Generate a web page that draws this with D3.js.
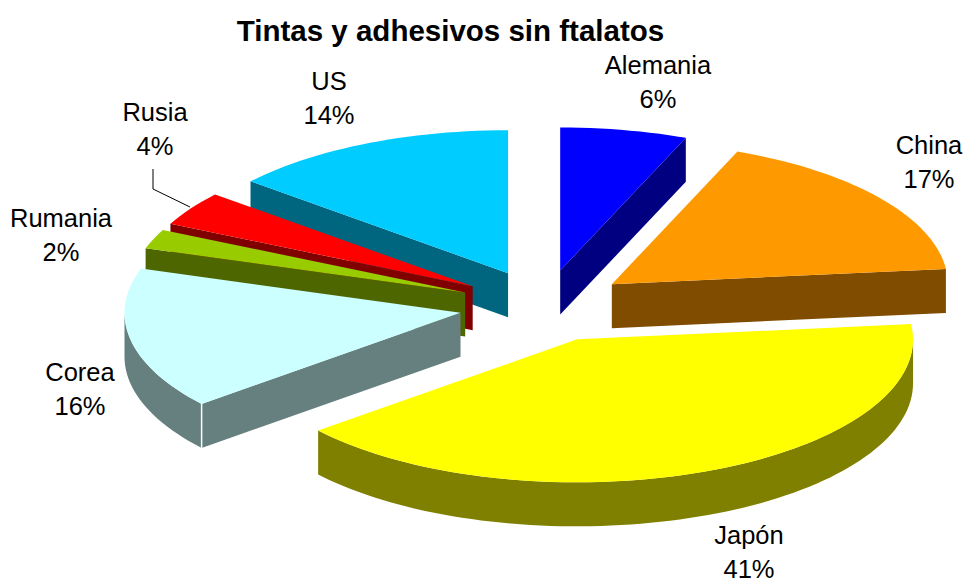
<!DOCTYPE html>
<html><head><meta charset="utf-8">
<script src="https://cdn.jsdelivr.net/npm/d3@7"></script>
<style>html,body{margin:0;padding:0;background:#fff}svg{display:block}</style>
</head><body><svg id="c" width="963" height="583"></svg>
<script>
const titleText = "Tintas y adhesivos sin ftalatos";
const categories = ["Alemania","China","Japón","Corea","Rumania","Rusia","US"];
const values = [6.1,17.2,40.7,16,2.2,3.9,13.9];
const topColors = ["#0000ff","#ff9900","#ffff00","#ccffff","#99cc00","#ff0000","#00ccff"];
const wallColors = ["#000080","#804c00","#808000","#667f7f","#4d6600","#800000","#006680"];
const drawOrder = ["Alemania","US","China","Rusia","Rumania","Corea","Japón"];
const labelX = [658,929,749,80,61,155,329];
const labelY = [74,154,543.5,381,227,121,90];

const W=963,H=583,cx=544,cy=306,rx=336,ry=143,depth=44,explode=0.253,lineGap=34;
const svg=d3.select("#c");
const sx=d3.scaleLinear().domain([-1,1]).range([-rx,rx]);
const sy=d3.scaleLinear().domain([-1,1]).range([ry,-ry]);
const arcs=d3.pie().value(d=>d).sort(null)(values);
const line=d3.line();
const pt=(a,c)=>[c[0]+sx(Math.sin(a)),c[1]+sy(Math.cos(a))];
const down=p=>[p[0],p[1]+depth];
const byName=new Map(categories.map((n,i)=>[n,i]));
const g=svg.append("g");
const endWall=new Set(["Alemania","China"]);
const startWall=new Set(["US","Rusia","Rumania","Corea"]);
drawOrder.forEach(name=>{
  const i=byName.get(name),d=arcs[i],mid=(d.startAngle+d.endAngle)/2;
  const c=[cx+explode*sx(Math.sin(mid)),cy+explode*sy(Math.cos(mid))];
  const s=g.append("g").attr("class","slice");
  const rad=a=>{const p=pt(a,c);return [c,p,down(p),down(c)];};
  const pi=Math.PI;
  if(endWall.has(name)) s.append("path").attr("d",line(rad(d.endAngle))+"Z").attr("fill",wallColors[i]);
  if(startWall.has(name)) s.append("path").attr("d",line(rad(d.startAngle))+"Z").attr("fill",wallColors[i]);
  const a0=Math.max(d.startAngle,pi/2),a1=Math.min(d.endAngle,pi*1.5);
  if(a1>a0){
    const as=d3.range(a0,a1,0.03).concat([a1]);
    const top=as.map(a=>pt(a,c));
    const rim=top.concat(top.slice().reverse().map(down));
    s.append("path").attr("d",line(rim)+"Z").attr("fill",wallColors[i]);
  }
  if(name==="Corea"){
    const p=pt(d.startAngle,c);
    s.append("path").attr("d",line([p,down(p)])).attr("stroke","#fff").attr("stroke-width",1.5).attr("fill","none");
  }
  const as=d3.range(d.startAngle,d.endAngle,0.03).concat([d.endAngle]);
  s.append("path").attr("d",line([c].concat(as.map(a=>pt(a,c))))+"Z").attr("fill",topColors[i]);
});
svg.append("path").attr("d",line([[153,169],[153,189],[190,207]])).attr("fill","none").attr("stroke","#000").attr("stroke-width",1);
const lab=svg.append("g").attr("font-family","'Liberation Sans',Arial,sans-serif").attr("font-size",25.5).attr("text-anchor","middle").attr("fill","#000");
categories.forEach((n,i)=>{
  lab.append("text").attr("x",labelX[i]).attr("y",labelY[i]).text(n);
  lab.append("text").attr("x",labelX[i]).attr("y",labelY[i]+lineGap).text(d3.format(".0%")(values[i]/d3.sum(values)));
});
svg.append("text").attr("x",450.5).attr("y",41).attr("text-anchor","middle").attr("font-family","'Liberation Sans',Arial,sans-serif").attr("font-weight","bold").attr("font-size",29.5).text(titleText);
</script></body></html>
